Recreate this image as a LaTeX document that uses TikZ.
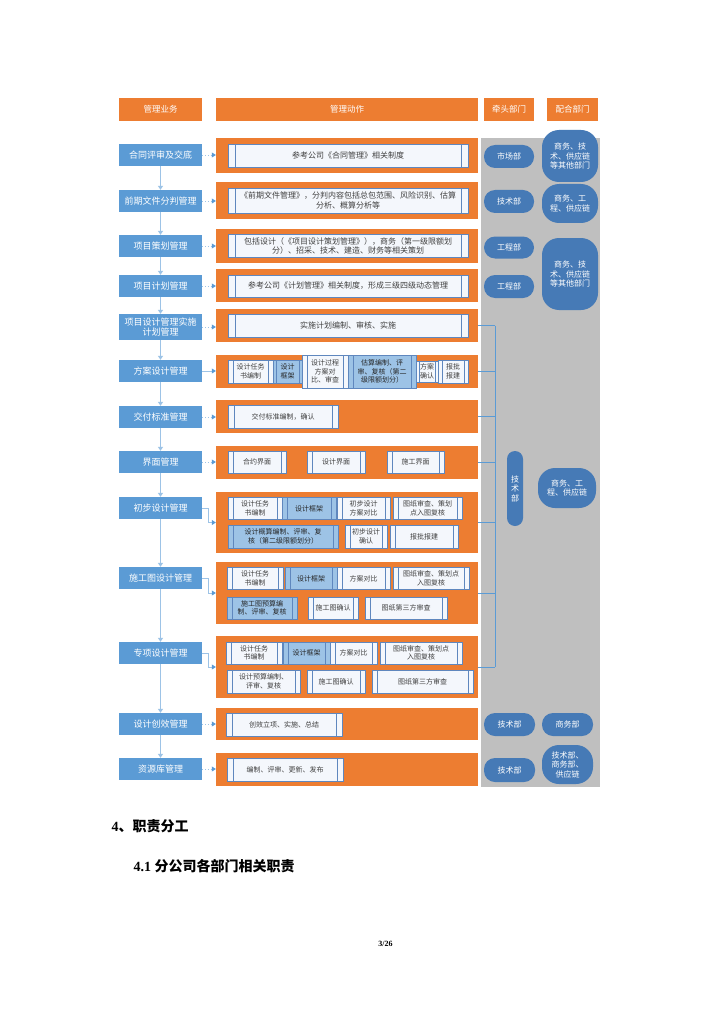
\documentclass[tikz,border=0pt]{standalone}
\usepackage{fontspec}
\setmainfont{Liberation Serif}
\newfontfamily\cjk{Noto Sans CJK SC}
\usetikzlibrary{arrows.meta}
\definecolor{orangebar}{RGB}{237,125,49}
\definecolor{bizblue}{RGB}{91,155,213}
\definecolor{deptblue}{RGB}{70,122,182}
\definecolor{paleblue}{RGB}{157,195,230}
\definecolor{edgeblue}{RGB}{95,135,190}
\definecolor{stepfill}{RGB}{244,247,252}
\definecolor{leadgray}{RGB}{191,191,191}

\tikzset{
  rim/.store in=\rimw, rim=5pt,
  hdr/.style={fill=orangebar, text=white, font=\cjk\fontsize{8.5}{10}\selectfont, minimum height=23pt, inner sep=1pt},
  bizbox/.style={fill=bizblue, text=white, font=\cjk\fontsize{9}{10.5}\selectfont, minimum width=83pt, minimum height=22pt, inner sep=1pt, align=center},
  actbar/.style={fill=orangebar, minimum width=262pt, inner sep=0pt},
  stepbox/.style={draw=edgeblue, line width=0.5pt, fill=stepfill, text=black!75, font=\cjk\fontsize{7}{8.5}\selectfont, align=center, inner sep=1pt,
    path picture={\draw[edgeblue, line width=0.5pt]
      ([xshift=\rimw]path picture bounding box.north west) -- ([xshift=\rimw]path picture bounding box.south west)
      ([xshift=-\rimw]path picture bounding box.north east) -- ([xshift=-\rimw]path picture bounding box.south east);}},
  darkstep/.style={stepbox, fill=paleblue, text=black!85},
  bigstep/.style={stepbox, rim=7pt, font=\cjk\fontsize{8}{9.5}\selectfont, minimum width=240pt},
  dept/.style={fill=deptblue, text=white, font=\cjk\fontsize{8}{9.5}\selectfont, align=center, inner sep=1pt, rounded corners=11pt},
  flow/.style={paleblue, line width=1.3pt, -{Triangle[width=5pt,length=4pt]}},
  link/.style={paleblue, line width=0.8pt, dotted, -{Triangle[width=5pt,length=4pt,color=bizblue]}},
  elbow/.style={paleblue, line width=0.8pt, -{Triangle[width=5pt,length=4pt,color=bizblue]}},
  rail/.style={bizblue, line width=0.6pt},
}

\begin{document}
\begin{tikzpicture}[x=1pt, y=-1pt]

% Page
\useasboundingbox (0,0) rectangle (724,1024);
\fill[white] (0,0) rectangle (724,1024);

% Lead department backdrop
\fill[leadgray] (481,138) rectangle (600,787);

% Headers
\node[hdr, minimum width=83pt] (h1) at (160.5,109.5) {管理业务};
\node[hdr, minimum width=262pt] (h2) at (347,109.5) {管理动作};
\node[hdr, minimum width=50pt] (h3) at (509,109.5) {牵头部门};
\node[hdr, minimum width=51pt] (h4) at (572.5,109.5) {配合部门};

% Orange action bars
\foreach \n/\y/\h in {1/155.5/35, 2/200.5/37, 3/246/34, 4/285.5/33, 5/325.5/33, 6/371.5/33, 7/416.5/33,
    8/462.5/33, 9/522.5/61, 10/593/62, 11/667/62, 12/724/32, 13/769.5/33} {
  \node[actbar, minimum height=\h pt] (o\n) at (347,\y) {};
}

% Business boxes
\foreach \n/\y/\t in {1/155/合同评审及交底, 2/201/前期文件分判管理, 3/246/项目策划管理, 4/286/项目计划管理,
    6/371/方案设计管理, 7/417/交付标准管理, 8/462/界面管理, 9/508/初步设计管理,
    10/578/施工图设计管理, 11/653/专项设计管理, 12/724/设计创效管理, 13/769/资源库管理} {
  \node[bizbox] (b\n) at (160.5,\y) {\t};
}
\node[bizbox, minimum height=26pt] (b5) at (160.5,327) {项目设计管理实施\\计划管理};

% Actions, rows 1-5
\node[bigstep, minimum height=23pt] (a1) at (348,155.5) {参考公司《合同管理》相关制度};
\node[bigstep, minimum height=25pt] (a2) at (348,200.5) {《前期文件管理》，分判内容包括总包范围、风险识别、估算\\分析、概算分析等};
\node[bigstep, minimum height=23pt] (a3) at (348,246) {包括设计（《项目设计策划管理》），商务（第一级限额划\\分）、招采、技术、建造、财务等相关策划};
\node[bigstep, minimum height=22pt] (a4) at (348,286) {参考公司《计划管理》相关制度，形成三级四级动态管理};
\node[bigstep, minimum height=23pt] (a5) at (348,325.5) {实施计划编制、审核、实施};

% Scheme design
\node[stepbox, minimum width=45pt, minimum height=23pt] (f1) at (250.5,371.5) {设计任务\\书编制};
\node[darkstep, minimum width=29pt, minimum height=23pt, rim=3pt] (f2) at (287.5,371.5) {设计\\框架};
\node[stepbox, minimum width=46pt, minimum height=33pt] (f3) at (325,371.5) {设计过程\\方案对\\比、审查};
\node[darkstep, minimum width=68pt, minimum height=33pt] (f4) at (382,371.5) {估算编制、评\\审、复核（第二\\级限额划分）};
\node[stepbox, minimum width=22pt, minimum height=21pt, rim=3pt] (f5) at (427,371.5) {方案\\确认};
\node[stepbox, minimum width=30pt, minimum height=23pt, rim=4pt] (f6) at (453,371.5) {报批\\报建};

% Delivery standard and interfaces
\node[stepbox, minimum width=110pt, minimum height=23pt, rim=6pt] (g1) at (283,416.5) {交付标准编制，确认};
\node[stepbox, minimum width=58pt, minimum height=22pt] (i1) at (257,462) {合约界面};
\node[stepbox, minimum width=58pt, minimum height=22pt] (i2) at (336,462) {设计界面};
\node[stepbox, minimum width=57pt, minimum height=22pt] (i3) at (415.5,462) {施工界面};

% Preliminary design
\node[stepbox, minimum width=54pt, minimum height=22pt] (p1) at (255,508.5) {设计任务\\书编制};
\node[darkstep, minimum width=54pt, minimum height=22pt] (p2) at (309,508.5) {设计框架};
\node[stepbox, minimum width=53pt, minimum height=22pt] (p3) at (363.5,508.5) {初步设计\\方案对比};
\node[stepbox, minimum width=69pt, minimum height=22pt] (p4) at (427.5,508.5) {图纸审查、策划\\点入图复核};
\node[darkstep, minimum width=110pt, minimum height=23pt] (q1) at (283,536.5) {设计概算编制、评审、复\\核（第二级限额划分）};
\node[stepbox, minimum width=42pt, minimum height=23pt] (q2) at (366,536.5) {初步设计\\确认};
\node[stepbox, minimum width=68pt, minimum height=23pt] (q3) at (424,536.5) {报批报建};

% Construction drawing design
\node[stepbox, minimum width=56pt, minimum height=22pt] (r1) at (255,578.5) {设计任务\\书编制};
\node[darkstep, minimum width=52pt, minimum height=22pt] (r2) at (311,578.5) {设计框架};
\node[stepbox, minimum width=53pt, minimum height=22pt] (r3) at (363.5,578.5) {方案对比};
\node[stepbox, minimum width=76pt, minimum height=22pt] (r4) at (431,578.5) {图纸审查、策划点\\入图复核};
\node[darkstep, minimum width=70pt, minimum height=22pt] (t1) at (262,608) {施工图预算编\\制、评审、复核};
\node[stepbox, minimum width=50pt, minimum height=22pt] (t2) at (333,608) {施工图确认};
\node[stepbox, minimum width=82pt, minimum height=22pt] (t3) at (406,608) {图纸第三方审查};

% Special design
\node[stepbox, minimum width=56pt, minimum height=22pt] (u1) at (254,653) {设计任务\\书编制};
\node[darkstep, minimum width=47pt, minimum height=22pt] (u2) at (306.5,653) {设计框架};
\node[stepbox, minimum width=47pt, minimum height=22pt] (u3) at (353.5,653) {方案对比};
\node[stepbox, minimum width=82pt, minimum height=22pt] (u4) at (421,653) {图纸审查、策划点\\入图复核};
\node[stepbox, minimum width=73pt, minimum height=23pt] (v1) at (263.5,681.5) {设计预算编制、\\评审、复核};
\node[stepbox, minimum width=58pt, minimum height=23pt] (v2) at (336,681.5) {施工图确认};
\node[stepbox, minimum width=101pt, minimum height=23pt] (v3) at (422.5,681.5) {图纸第三方审查};

% Value creation and resource library
\node[stepbox, minimum width=116pt, minimum height=23pt, rim=6pt] (w1) at (284,724.5) {创效立项、实施、总结};
\node[stepbox, minimum width=116pt, minimum height=23pt, rim=6pt] (x1) at (285,769.5) {编制、评审、更新、发布};

% Flow down the business column
\foreach \i [evaluate=\i as \j using int(\i+1)] in {1,...,12} {
  \draw[flow] (b\i.south) -- (b\j.north);
}

% Business to action links
\foreach \i in {1,2,3,4,5,7,8,12,13} {
  \draw[link] (b\i.east) -- (b\i.east -| o\i.west);
}
\draw[elbow] (b6.east) -- (b6.east -| o6.west);
\foreach \i in {9,10,11} {
  \draw[elbow] (b\i.east) -- ++(6,0) |- (o\i.west);
}

% Rail to the technical department
\coordinate (railx) at (495,0);
\foreach \i in {5,...,11} {
  \draw[rail] (o\i.east) -- (o\i.east -| railx);
}
\draw[rail] (o5.east -| railx) -- (o11.east -| railx);

% Lead departments
\node[dept, minimum width=50pt, minimum height=23pt] (m1) at (509,156.5) {市场部};
\node[dept, minimum width=50pt, minimum height=23pt] (m2) at (509,201.5) {技术部};
\node[dept, minimum width=50pt, minimum height=22pt] (m3) at (509,247.5) {工程部};
\node[dept, minimum width=50pt, minimum height=23pt] (m4) at (509,286.5) {工程部};
\node[dept, minimum width=16pt, minimum height=75pt, rounded corners=8pt] (m5) at (515,488.5) {技\\术\\部};
\node[dept, minimum width=51pt, minimum height=23pt] (m6) at (509.5,724.5) {技术部};
\node[dept, minimum width=51pt, minimum height=24pt] (m7) at (509.5,770) {技术部};

% Supporting departments
\node[dept, minimum width=56pt, minimum height=52pt, rounded corners=17pt] (c1) at (570,156) {商务、技\\术、供应链\\等其他部门};
\node[dept, minimum width=56pt, minimum height=39pt, rounded corners=17pt] (c2) at (570,203.5) {商务、工\\程、供应链};
\node[dept, minimum width=56pt, minimum height=72pt, rounded corners=17pt] (c3) at (570,274) {商务、技\\术、供应链\\等其他部门};
\node[dept, minimum width=58pt, minimum height=40pt, rounded corners=17pt] (c4) at (567,488) {商务、工\\程、供应链};
\node[dept, minimum width=51pt, minimum height=23pt] (c5) at (567.5,724.5) {商务部};
\node[dept, minimum width=51pt, minimum height=39pt, rounded corners=17pt] (c6) at (567.5,764.5) {技术部、\\商务部、\\供应链};

% Body text below the chart
\node[anchor=west, font=\bfseries\fontsize{14}{16}\selectfont] (sec) at (108,826) {4{\cjk\bfseries 、职责分工}};
\node[anchor=west, font=\bfseries\fontsize{14}{16}\selectfont] (subsec) at (130,866) {4.1 {\cjk\bfseries 分公司各部门相关职责}};
\node[font=\bfseries\fontsize{8}{10}\selectfont] (pg) at (385.5,944) {3/26};

\end{tikzpicture}
\end{document}
